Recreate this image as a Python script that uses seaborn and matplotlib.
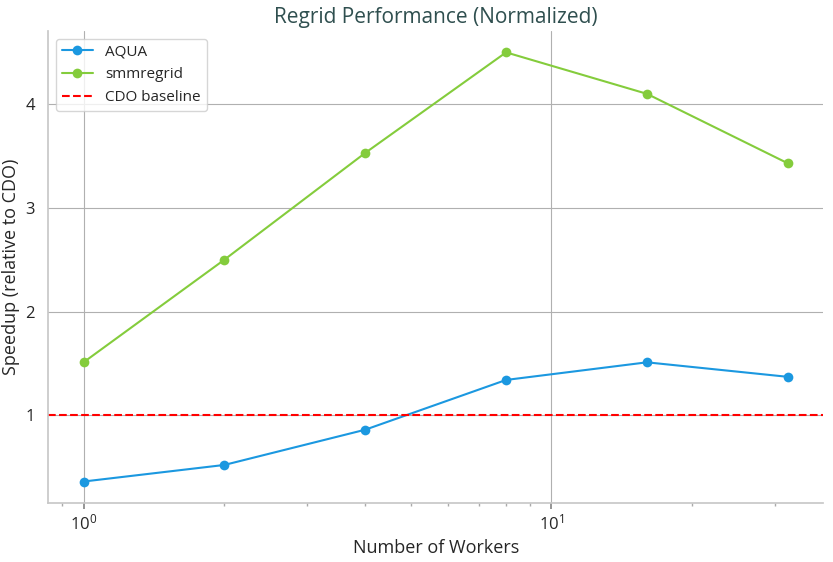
import matplotlib
matplotlib.use("Agg")
import matplotlib.pyplot as plt
import seaborn as sns
import pandas as pd

workers = [1, 2, 4, 8, 16, 32]
aqua = [0.36, 0.52, 0.86, 1.34, 1.51, 1.37]
smmregrid = [1.51, 2.50, 3.53, 4.50, 4.10, 3.43]

sns.set_theme(style="whitegrid")
plt.rcParams["font.family"] = ["Open Sans", "DejaVu Sans"]

df = pd.DataFrame({"workers": workers * 2,
                   "speedup": aqua + smmregrid,
                   "tool": ["AQUA"] * 6 + ["smmregrid"] * 6})

fig, ax = plt.subplots(figsize=(8.33, 5.62), dpi=100)
sns.lineplot(data=df, x="workers", y="speedup", hue="tool",
             palette={"AQUA": "#1b98e0", "smmregrid": "#84cc3c"},
             marker="o", markersize=7, markeredgewidth=0, ax=ax)
ax.axhline(1.0, color="red", ls="--", lw=1.5, label="CDO baseline")
ax.set_xscale("log")
ax.grid(True, which="major", color="#b0b0b0", lw=0.8)
ax.grid(False, which="minor")
for s in ["top", "right"]:
    ax.spines[s].set_visible(False)
for s in ["left", "bottom"]:
    ax.spines[s].set_color("#c8c8c8")
ax.tick_params(axis="x", which="major", bottom=True, color="#888888", length=4, labelsize=12)
ax.tick_params(axis="x", which="minor", bottom=True, color="#aaaaaa", length=2.5)
ax.tick_params(axis="y", labelsize=12)
ax.set_title("Regrid Performance (Normalized)", fontsize=15, color="#2f4f4f")
ax.set_xlabel("Number of Workers", fontsize=13)
ax.set_ylabel("Speedup (relative to CDO)", fontsize=13)
ax.set_yticks([1, 2, 3, 4])
ax.legend(loc="upper left", fontsize=11, frameon=True)
fig.subplots_adjust(left=0.058, right=0.988, top=0.945, bottom=0.105)
plt.savefig("out.png", dpi=100)
